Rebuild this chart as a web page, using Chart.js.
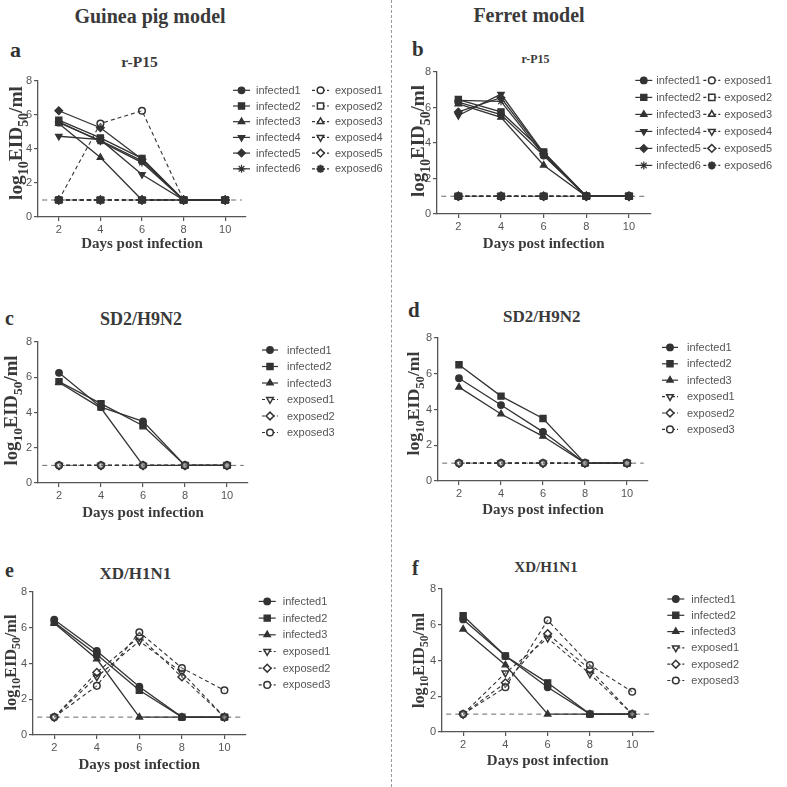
<!DOCTYPE html>
<html><head><meta charset="utf-8">
<script src="https://cdn.jsdelivr.net/npm/chart.js@4.4.1/dist/chart.umd.min.js"></script>
<style>
html,body{margin:0;padding:0;background:#fff;}
body{width:787px;height:787px;position:relative;overflow:hidden;font-family:"Liberation Serif","Times New Roman",serif;}
.t{position:absolute;font-weight:bold;color:#3a3a3a;white-space:nowrap;line-height:1;}
.c{transform:translate(-50%,-50%);}
canvas{position:absolute;}
#divider{position:absolute;left:391px;top:0;height:787px;border-left:1px dashed #9a9a9a;}
</style></head><body>
<div id="divider"></div>
<div class="t c" style="left:150px;top:16px;font-size:20px;">Guinea pig model</div>
<div class="t c" style="left:529px;top:15px;font-size:20px;">Ferret model</div>
<div id="labels"></div>
<script>
// ---------- data ----------
const days = [2, 4, 6, 8, 10];
const xTicks = [2, 4, 6, 8, 10];
const yTicks = [0, 2, 4, 6, 8];
const limitX = [1.2, 10.8];
const limitY = 1;
const xTitle = 'Days post infection';
// y title pieces: [text, isSubscript]
const yTitleParts = [['log', 0], ['10', 1], ['EID', 0], ['50', 1], ['/ml', 0]];
const columnTitles = ['Guinea pig model', 'Ferret model'];
const panelLetters = ['a', 'b', 'c', 'd', 'e', 'f'];
const panelTitles = ['r-P15', 'r-P15', 'SD2/H9N2', 'SD2/H9N2', 'XD/H1N1', 'XD/H1N1'];
const labels6 = ['infected1','infected2','infected3','infected4','infected5','infected6',
                 'exposed1','exposed2','exposed3','exposed4','exposed5','exposed6'];
const labels3 = ['infected1','infected2','infected3','exposed1','exposed2','exposed3'];

// panel a: guinea pig, r-P15
const aInfected1 = [5.55, 4.5, 3.3, 1, 1];
const aInfected2 = [5.7, 4.65, 3.45, 1, 1];
const aInfected3 = [5.5, 3.5, 1, 1, 1];
const aInfected4 = [4.75, 4.55, 2.5, 1, 1];
const aInfected5 = [6.25, 5.25, 3.4, 1, 1];
const aInfected6 = [5.6, 4.45, 3.2, 1, 1];
const aExposed1 = [1, 5.5, 6.25, 1, 1];
const aExposed2 = [1, 1, 1, 1, 1];
const aExposed3 = [1, 1, 1, 1, 1];
const aExposed4 = [1, 1, 1, 1, 1];
const aExposed5 = [1, 1, 1, 1, 1];
const aExposed6 = [1, 1, 1, 1, 1];

// panel b: ferret, r-P15
const bInfected1 = [6.3, 5.6, 3.3, 1, 1];
const bInfected2 = [6.45, 5.75, 3.5, 1, 1];
const bInfected3 = [6.2, 5.45, 2.75, 1, 1];
const bInfected4 = [5.55, 6.75, 3.45, 1, 1];
const bInfected5 = [5.75, 6.55, 3.4, 1, 1];
const bInfected6 = [6.4, 6.35, 3.3, 1, 1];
const bExposed1 = [1, 1, 1, 1, 1];
const bExposed2 = [1, 1, 1, 1, 1];
const bExposed3 = [1, 1, 1, 1, 1];
const bExposed4 = [1, 1, 1, 1, 1];
const bExposed5 = [1, 1, 1, 1, 1];
const bExposed6 = [1, 1, 1, 1, 1];

// panel c: guinea pig, SD2/H9N2
const cInfected1 = [6.25, 4.3, 3.5, 1, 1];
const cInfected2 = [5.75, 4.5, 3.25, 1, 1];
const cInfected3 = [5.7, 4.25, 1, 1, 1];
const cExposed1 = [1, 1, 1, 1, 1];
const cExposed2 = [1, 1, 1, 1, 1];
const cExposed3 = [1, 1, 1, 1, 1];

// panel d: ferret, SD2/H9N2
const dInfected1 = [5.75, 4.25, 2.75, 1, 1];
const dInfected2 = [6.5, 4.75, 3.5, 1, 1];
const dInfected3 = [5.25, 3.75, 2.5, 1, 1];
const dExposed1 = [1, 1, 1, 1, 1];
const dExposed2 = [1, 1, 1, 1, 1];
const dExposed3 = [1, 1, 1, 1, 1];

// panel e: guinea pig, XD/H1N1
const eInfected1 = [6.45, 4.7, 2.7, 1, 1];
const eInfected2 = [6.3, 4.5, 2.5, 1, 1];
const eInfected3 = [6.25, 4.25, 1, 1, 1];
const eExposed1 = [1, 3.25, 5.25, 3.5, 1];
const eExposed2 = [1, 3.5, 5.5, 3.25, 1];
const eExposed3 = [1, 2.75, 5.75, 3.75, 2.5];

// panel f: ferret, XD/H1N1
const fInfected1 = [6.3, 4.25, 2.5, 1, 1];
const fInfected2 = [6.5, 4.25, 2.75, 1, 1];
const fInfected3 = [5.75, 3.75, 1, 1, 1];
const fExposed1 = [1, 3.3, 5.25, 3.25, 1];
const fExposed2 = [1, 2.75, 5.5, 3.5, 1];
const fExposed3 = [1, 2.5, 6.25, 3.75, 2.25];

// ---------- styling ----------
const INK = '#333';
const SERIF = '"Liberation Serif","DejaVu Serif","Times New Roman",serif';
const SANS = '"Liberation Sans",Arial,sans-serif';
const markers = {
  circle:   {style:'circle',   rot:0,   r:3.3},
  square:   {style:'rect',     rot:0,   r:4.4},
  triUp:    {style:'triangle', rot:0,   r:3.8},
  triDown:  {style:'triangle', rot:180, r:3.8},
  diamond:  {style:'rectRot',  rot:0,   r:3.9},
  star:     {style:'star',     rot:0,   r:4},
};
const markers6 = ['circle','square','triUp','triDown','diamond','star'];
const markers3exp = ['triDown','diamond','circle'];

function ds(label, values, dashed, marker, filled, idx) {
  const m = markers[marker];
  return {
    label,
    order: -idx,
    data: days.map((d, i) => ({x: d, y: values[i]})),
    borderColor: INK,
    borderWidth: dashed ? 1.1 : 1.3,
    borderDash: dashed ? [4, 3] : [],
    pointStyle: m.style,
    pointRotation: m.rot,
    pointRadius: m.r,
    pointHoverRadius: m.r,
    pointBorderWidth: marker === 'star' && dashed ? 2.2 : (dashed ? 1.5 : 1.2),
    pointBorderColor: INK,
    pointBackgroundColor: filled ? INK : 'rgba(255,255,255,0.25)',
    backgroundColor: filled ? INK : 'rgba(255,255,255,0.25)',
    fill: false, tension: 0, clip: false
  };
}
function limitDs() {
  return {
    label: '_limit', isLimit: true, order: 100,
    data: limitX.map(x => ({x, y: limitY})),
    borderColor: '#6a6a6a', borderWidth: 1, borderDash: [5, 4],
    pointRadius: 0, fill: false, clip: false
  };
}

const setA = [aInfected1,aInfected2,aInfected3,aInfected4,aInfected5,aInfected6,aExposed1,aExposed2,aExposed3,aExposed4,aExposed5,aExposed6];
const setB = [bInfected1,bInfected2,bInfected3,bInfected4,bInfected5,bInfected6,bExposed1,bExposed2,bExposed3,bExposed4,bExposed5,bExposed6];
const setC = [cInfected1,cInfected2,cInfected3,cExposed1,cExposed2,cExposed3];
const setD = [dInfected1,dInfected2,dInfected3,dExposed1,dExposed2,dExposed3];
const setE = [eInfected1,eInfected2,eInfected3,eExposed1,eExposed2,eExposed3];
const setF = [fInfected1,fInfected2,fInfected3,fExposed1,fExposed2,fExposed3];

function build6(set) {
  return set.map((v, i) => {
    const exp = i >= 6;
    const mk = markers6[i % 6];
    return ds(labels6[i], v, exp, mk, !exp || mk === 'star', i);
  });
}
function build3(set) {
  return set.map((v, i) => {
    const exp = i >= 3;
    const mk = exp ? markers3exp[i - 3] : markers6[i];
    return ds(labels3[i], v, exp, mk, !exp, i);
  });
}

// geometry (page px): plot area L,T,R,B ; legend ; title offsets
const panels = [
  {sets: build6(setA), col:0, L:38,    T:80.7,  R:246, B:217,   yOff:22,   yLen:114, yShift:-6, xOff:27,
   lg:{x:233, y:90,    dy:15.7, colDx:79, perCol:6, tx:23, len:17},
   letter:{x:10, base:57, fs:22}, title:{x:139.5, y:62, fs:15.5}},
  {sets: build6(setB), col:1, L:436.7, T:72.3,  R:650, B:214.3, yOff:19,   yLen:112, yShift:-2, xOff:30,
   lg:{x:635, y:80.7,  dy:17,   colDx:68, perCol:6, tx:21, len:17},
   letter:{x:412, base:57, fs:21}, title:{x:535.5, y:59, fs:12}},
  {sets: build3(setC), col:0, L:38,    T:342,   R:248, B:483.3, yOff:27,   yLen:110, yShift:-2, xOff:30,
   lg:{x:262, y:350,   dy:16.5, colDx:0, perCol:6, tx:25, len:16},
   letter:{x:5, base:325, fs:20}, title:{x:141, y:319, fs:18}},
  {sets: build3(setD), col:1, L:438,   T:338.3, R:648, B:481.7, yOff:25,   yLen:104, yShift:-6, xOff:29,
   lg:{x:662, y:347.7, dy:16.4, colDx:0, perCol:6, tx:25, len:16},
   letter:{x:408, base:318, fs:21}, title:{x:541.7, y:315.5, fs:17}},
  {sets: build3(setE), col:0, L:33.3,  T:592.3, R:246, B:735,   yOff:22.6, yLen:96, yShift:-1, xOff:30,
   lg:{x:259, y:601.7, dy:16.7, colDx:0, perCol:6, tx:24, len:17},
   letter:{x:5, base:577, fs:20}, title:{x:135.3, y:573, fs:17}},
  {sets: build3(setF), col:1, L:441.7, T:589,   R:653, B:731.7, yOff:23.7, yLen:95, yShift:0, xOff:29,
   lg:{x:667, y:599,   dy:16.3, colDx:0, perCol:6, tx:24, len:17},
   letter:{x:412, base:575, fs:20}, title:{x:546, y:567, fs:15}},
];

// custom legend: line + marker + label, in columns
const sideLegend = {
  id: 'sideLegend',
  afterDraw(chart, args, o) {
    const ctx = chart.ctx;
    const items = chart.data.datasets.filter(d => !d.isLimit);
    ctx.save();
    items.forEach((d, i) => {
      const col = Math.floor(i / o.perCol), row = i % o.perCol;
      const x = o.x + col * o.colDx, y = o.y + row * o.dy;
      ctx.strokeStyle = INK; ctx.lineWidth = 1.2;
      ctx.setLineDash(d.borderDash && d.borderDash.length ? [3, 2] : []);
      ctx.beginPath(); ctx.moveTo(x, y); ctx.lineTo(x + o.len, y); ctx.stroke();
      ctx.setLineDash([]);
      const filled = d.pointBackgroundColor === INK;
      ctx.fillStyle = filled ? INK : '#fff'; ctx.strokeStyle = d.pointBorderColor;
      ctx.lineWidth = d.pointBorderWidth;
      if (Chart.helpers && Chart.helpers.drawPoint) {
        Chart.helpers.drawPoint(ctx, {pointStyle: d.pointStyle, rotation: d.pointRotation || 0,
          radius: d.pointRadius, borderWidth: d.pointBorderWidth}, x + o.len / 2, y);
      } else {
        ctx.beginPath(); ctx.arc(x + o.len / 2, y, d.pointRadius, 0, Math.PI * 2); ctx.fill(); ctx.stroke();
      }
      ctx.fillStyle = '#555';
      ctx.font = '11px ' + SANS;
      ctx.textAlign = 'left'; ctx.textBaseline = 'middle';
      ctx.fillText(d.label, x + o.tx, y + 0.5);
    });
    ctx.restore();
  }
};

// y-axis title with real subscripts, drawn rotated beside the y scale
const yTitlePlugin = {
  id: 'yTitleSub',
  afterDraw(chart, args, o) {
    const ctx = chart.ctx, ca = chart.chartArea;
    ctx.save();
    const measure = (fs) => {
      let w = 0;
      yTitleParts.forEach(([t, sub]) => {
        ctx.font = 'bold ' + (sub ? fs * 0.72 : fs) + 'px ' + SERIF;
        w += ctx.measureText(t).width;
      });
      return w;
    };
    const fs = 17 * o.len / measure(17);
    const total = measure(fs);
    const cx = ca.left - o.off, cy = (ca.top + ca.bottom) / 2 + o.shift;
    ctx.translate(cx, cy);
    ctx.rotate(-Math.PI / 2);
    ctx.fillStyle = '#3a3a3a';
    ctx.textBaseline = 'alphabetic'; ctx.textAlign = 'left';
    let x = -total / 2;
    const base = fs * 0.33;
    yTitleParts.forEach(([t, sub]) => {
      ctx.font = 'bold ' + (sub ? fs * 0.72 : fs) + 'px ' + SERIF;
      ctx.fillText(t, x, base + (sub ? fs * 0.28 : 0));
      x += ctx.measureText(t).width;
    });
    ctx.restore();
  }
};

const labelsDiv = document.getElementById('labels');
panels.forEach((p, idx) => {
  const left = p.L - 40, top = p.T - 10;
  const width = Math.round((p.col === 0 ? 390 : 787) - left);
  const plotW = p.R - p.L, plotH = p.B - p.T;
  const height = Math.round(plotH + 10 + 42 + 4);
  const cv = document.createElement('canvas');
  cv.width = width; cv.height = height;
  cv.style.left = left + 'px'; cv.style.top = top + 'px';
  cv.style.width = width + 'px'; cv.style.height = height + 'px';
  document.body.appendChild(cv);

  const lt = document.createElement('div');
  lt.className = 't';
  lt.style.cssText = `left:${p.letter.x}px;top:${p.letter.base - 0.84 * p.letter.fs}px;font-size:${p.letter.fs}px;color:#333;`;
  lt.textContent = panelLetters[idx];
  labelsDiv.appendChild(lt);
  const tt = document.createElement('div');
  tt.className = 't c';
  tt.style.cssText = `left:${p.title.x}px;top:${p.title.y}px;font-size:${p.title.fs}px;`;
  tt.textContent = panelTitles[idx];
  labelsDiv.appendChild(tt);

  const xFont = 15, xHalf = xFont * 1.2 / 2;
  new Chart(cv, {
    type: 'line',
    data: {datasets: [...p.sets, limitDs()]},
    options: {
      responsive: false, animation: false, devicePixelRatio: 1,
      layout: {padding: {left: 0, top: 10, right: width - 40 - plotW, bottom: 4}},
      plugins: {
        legend: {display: false}, tooltip: {enabled: false},
        sideLegend: {x: p.lg.x - left, y: p.lg.y - top, dy: p.lg.dy, colDx: p.lg.colDx,
                     perCol: p.lg.perCol, tx: p.lg.tx, len: p.lg.len},
        yTitleSub: {off: p.yOff, len: p.yLen, shift: p.yShift}
      },
      scales: {
        x: {
          type: 'linear', min: 1, max: 11, offset: false,
          afterFit(s) { s.height = 42; },
          afterBuildTicks(s) { s.ticks = xTicks.map(v => ({value: v})); },
          grid: {drawOnChartArea: false, drawTicks: true, tickLength: 4, color: '#555', lineWidth: 1.2},
          border: {display: true, color: '#555', width: 1.3},
          ticks: {color: '#555', font: {family: SANS, size: 11}, padding: 2, maxRotation: 0, autoSkip: false},
          title: {display: true, text: xTitle, color: '#3a3a3a',
                  font: {family: SERIF, size: xFont, weight: 'bold'},
                  padding: {top: 0, bottom: 42 - xHalf - p.xOff}}
        },
        y: {
          type: 'linear', min: 0, max: 8,
          afterFit(s) { s.width = 40; },
          afterBuildTicks(s) { s.ticks = yTicks.map(v => ({value: v})); },
          grid: {drawOnChartArea: false, drawTicks: true, tickLength: 4, color: '#555', lineWidth: 1.2},
          border: {display: true, color: '#555', width: 1.3},
          ticks: {color: '#555', font: {family: SANS, size: 11}, padding: 2},
          title: {display: false}
        }
      }
    },
    plugins: [sideLegend, yTitlePlugin]
  });
});
</script>
</body></html>
